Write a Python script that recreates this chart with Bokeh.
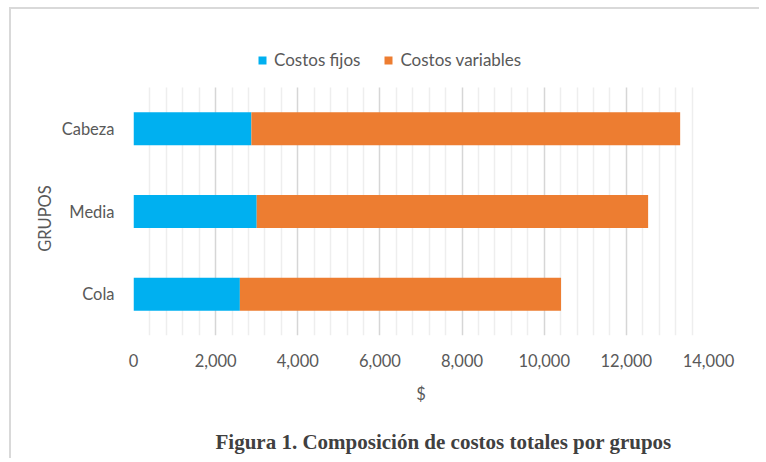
from bokeh.plotting import figure
from bokeh.models import (FixedTicker, NumeralTickFormatter, Legend, LegendItem,
                          Title, ColumnDataSource, Range1d, LinearAxis)
from bokeh.embed import file_html
from bokeh.resources import INLINE

grupos = ["Cola", "Media", "Cabeza"]
costos_fijos = [2590, 3000, 2870]
costos_variables = [7820, 9530, 10440]
x_ticks = [0, 2000, 4000, 6000, 8000, 10000, 12000, 14000]
series_names = ["Costos fijos", "Costos variables"]
colors = ["#00b0f0", "#ed7d31"]
caption = "Figura 1. Composición de costos totales por grupos"
y_title = "GRUPOS"

FONT = "Lato"
GRAY = "#595959"

pos = list(range(len(grupos)))
src = ColumnDataSource(dict(pos=pos, fijos=costos_fijos, variables=costos_variables))

# frame: bars region 248 px tall for the 3 groups, plus 45 px on top for the legend
bars_px, extra_px = 248, 45
ylo = -0.5
yhi_bars = len(grupos) - 0.5
yhi = ylo + (yhi_bars - ylo) * (bars_px + extra_px) / bars_px

p = figure(output_backend="svg", toolbar_location=None,
           y_range=Range1d(ylo, yhi), x_range=Range1d(0, 14000),
           min_border_left=122, min_border_right=51, min_border_top=33, min_border_bottom=118,
           frame_width=575, frame_height=bars_px + extra_px)
p.styles = {"border-top": "2px solid #d9d9d9", "border-left": "2px solid #d9d9d9",
            "margin-left": "9px", "margin-top": "7px"}
p.outline_line_color = None
p.background_fill_color = "white"
p.border_fill_color = "white"

r = p.hbar_stack(["fijos", "variables"], y="pos", height=0.4, color=colors,
                 line_color=None, source=src)

minor = [v for v in range(0, 14001, 400) if v % 2000 != 0]
p.xaxis.ticker = FixedTicker(ticks=x_ticks, minor_ticks=minor)
p.xaxis.formatter = NumeralTickFormatter(format="0,0")
p.yaxis.ticker = FixedTicker(ticks=pos)
p.yaxis.major_label_overrides = {i: g for i, g in zip(pos, grupos)}
p.ygrid.grid_line_color = None

grid_ok = True
try:
    p.xgrid.cross_bounds = (ylo, yhi_bars)
except Exception:
    grid_ok = False

if grid_ok:
    p.xgrid.grid_line_color = "#d6d6d6"
    p.xgrid.grid_line_width = 1.5
    p.xgrid.minor_grid_line_color = "#eeeeee"
    p.xgrid.minor_grid_line_width = 1.5
else:
    p.xgrid.grid_line_color = None
    p.segment(x0=minor, x1=minor, y0=[ylo] * len(minor), y1=[yhi_bars] * len(minor),
              line_color="#eeeeee", line_width=1.5, level="underlay")
    p.segment(x0=x_ticks, x1=x_ticks, y0=[ylo] * len(x_ticks), y1=[yhi_bars] * len(x_ticks),
              line_color="#d6d6d6", line_width=1.5, level="underlay")

for ax in (p.xaxis, p.yaxis):
    ax.axis_line_color = None
    ax.major_tick_line_color = None
    ax.minor_tick_line_color = None
    ax.major_label_text_font = FONT
    ax.major_label_text_font_size = "16.5px"
    ax.major_label_text_color = GRAY
    ax.axis_label_text_font = FONT
    ax.axis_label_text_font_size = "16.5px"
    ax.axis_label_text_color = GRAY
    ax.axis_label_text_font_style = "normal"

p.xaxis.axis_label = "$"
p.xaxis.major_label_standoff = 12
p.xaxis.axis_label_standoff = 14
# trailing no-break spaces keep the rotated title centred on the bar area, not the legend area
p.yaxis.axis_label = y_title + "\u00a0" * 14
p.yaxis.major_label_standoff = 13
p.yaxis.axis_label_standoff = 4

legend = Legend(items=[LegendItem(label=series_names[0], renderers=[r[0]]),
                       LegendItem(label=series_names[1], renderers=[r[1]])],
                orientation="horizontal", location=(124, 265),
                glyph_width=10, glyph_height=10, label_standoff=7, spacing=23,
                padding=0, margin=0, border_line_color=None, background_fill_alpha=0,
                label_text_font=FONT, label_text_font_size="17px", label_text_color=GRAY)
p.add_layout(legend, "center")

# blank spacer axis between the "$" label and the caption (one invisible no-break-space label)
mid = (x_ticks[0] + x_ticks[-1]) / 2
spacer = LinearAxis(ticker=FixedTicker(ticks=[mid]), major_label_overrides={mid: "\u00a0"},
                    major_tick_out=0, major_tick_in=0, minor_tick_out=0, minor_tick_in=0,
                    major_label_standoff=2, major_label_text_font_size="10px",
                    axis_line_color=None, major_tick_line_color=None,
                    minor_tick_line_color=None)
p.add_layout(spacer, "below")

cap = Title(text=caption, align="left", offset=82, standoff=10,
            text_font="Liberation Serif", text_font_style="bold", text_font_size="21px",
            text_color="#404040")
p.add_layout(cap, "below")

open("out.html", "w").write(file_html(p, INLINE))
